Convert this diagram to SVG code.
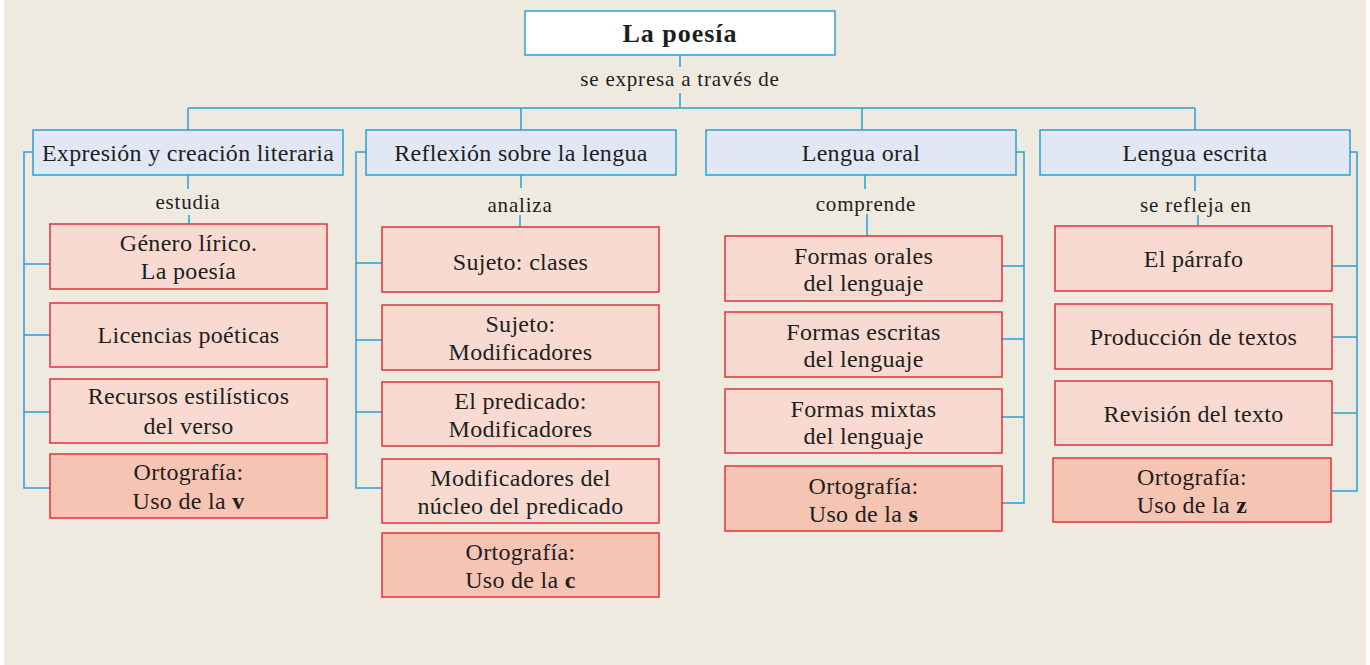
<svg xmlns="http://www.w3.org/2000/svg" width="1370" height="665" viewBox="0 0 1370 665">
<style>
.bg{fill:#EEEAE0}
.root{fill:#FFFFFF;stroke:#2A9FD8;stroke-width:1.5}
.cat{fill:#E1E7F5;stroke:#2A9FD8;stroke-width:1.5}
.item{fill:#F8DAD0;stroke:#E2323C;stroke-width:1.5}
.orto{fill:#F5C4B3;stroke:#E2323C;stroke-width:1.5}
.conn{fill:none;stroke:#2A9FD8;stroke-width:1.5}
.t{font-size:24px;letter-spacing:0.3px}
.lbl{font-size:21px;letter-spacing:0.8px}
.b{font-weight:bold}
.rt{font-size:26px;font-weight:bold;letter-spacing:1px}
</style>
<rect x="0" y="0" width="1370" height="665" fill="#FFFFFF"/>
<rect class="bg" x="4" y="0" width="1362" height="665"/>
<g id="connectors">
<path class="conn" d="M680 55V67M680 93V108M188 108H1195M188 108V130M521 108V130M862 108V130M1195 108V130"/>
<path class="conn" d="M188 175V189M189 215V224"/>
<path class="conn" d="M521 175V188M520 215V227"/>
<path class="conn" d="M865 175V189M867 214V236"/>
<path class="conn" d="M1195 175V191M1198 215V226"/>
<path class="conn" d="M33 152H24V488H50M24 264H50M24 335H50M24 412H50"/>
<path class="conn" d="M366 152H356V488H382M356 263H382M356 340H382M356 412H382"/>
<path class="conn" d="M1016 152H1024V503H1002M1024 266H1002M1024 339H1002M1024 417H1002"/>
<path class="conn" d="M1350 152H1357V491H1331M1357 266H1332M1357 337H1332M1357 413H1332"/>
</g>
<g font-family="'Liberation Serif', 'Times New Roman', 'DejaVu Serif', serif" fill="#1E1E1E" text-anchor="middle">
<g id="root"><rect class="root" x="525" y="11" width="310" height="44"/><text class="rt" x="680" y="42">La poesía</text></g>
<g id="lbl-root"><text class="lbl" x="680" y="86">se expresa a través de</text></g>
<g id="cat1"><rect class="cat" x="33" y="130" width="310" height="45"/><text class="t" x="188" y="161">Expresión y creación literaria</text></g>
<g id="cat2"><rect class="cat" x="366" y="130" width="310" height="45"/><text class="t" x="521" y="161">Reflexión sobre la lengua</text></g>
<g id="cat3"><rect class="cat" x="706" y="130" width="310" height="45"/><text class="t" x="861" y="161">Lengua oral</text></g>
<g id="cat4"><rect class="cat" x="1040" y="130" width="310" height="45"/><text class="t" x="1195" y="161">Lengua escrita</text></g>
<g id="lbl1"><text class="lbl" x="188" y="209">estudia</text></g>
<g id="lbl2"><text class="lbl" x="520" y="212">analiza</text></g>
<g id="lbl3"><text class="lbl" x="866" y="211">comprende</text></g>
<g id="lbl4"><text class="lbl" x="1196" y="212">se refleja en</text></g>
<g id="c1-1"><rect class="item" x="50" y="224" width="277" height="65"/><text class="t" x="188.5" y="251">Género lírico.</text><text class="t" x="188.5" y="279">La poesía</text></g>
<g id="c1-2"><rect class="item" x="50" y="303" width="277" height="64"/><text class="t" x="188.5" y="343">Licencias poéticas</text></g>
<g id="c1-3"><rect class="item" x="50" y="379" width="277" height="64"/><text class="t" x="188.5" y="404">Recursos estilísticos</text><text class="t" x="188.5" y="434">del verso</text></g>
<g id="c1-4"><rect class="orto" x="50" y="454" width="277" height="64"/><text class="t" x="188.5" y="480">Ortografía:</text><text class="t" x="188.5" y="509">Uso de la <tspan class="b">v</tspan></text></g>
<g id="c2-1"><rect class="item" x="382" y="227" width="277" height="65"/><text class="t" x="520.5" y="270">Sujeto: clases</text></g>
<g id="c2-2"><rect class="item" x="382" y="305" width="277" height="65"/><text class="t" x="520.5" y="332">Sujeto:</text><text class="t" x="520.5" y="360">Modificadores</text></g>
<g id="c2-3"><rect class="item" x="382" y="382" width="277" height="64"/><text class="t" x="520.5" y="409">El predicado:</text><text class="t" x="520.5" y="437">Modificadores</text></g>
<g id="c2-4"><rect class="item" x="382" y="459" width="277" height="64"/><text class="t" x="520.5" y="486">Modificadores del</text><text class="t" x="520.5" y="514">núcleo del predicado</text></g>
<g id="c2-5"><rect class="orto" x="382" y="533" width="277" height="64"/><text class="t" x="520.5" y="560">Ortografía:</text><text class="t" x="520.5" y="588">Uso de la <tspan class="b">c</tspan></text></g>
<g id="c3-1"><rect class="item" x="725" y="236" width="277" height="65"/><text class="t" x="863.5" y="264">Formas orales</text><text class="t" x="863.5" y="291">del lenguaje</text></g>
<g id="c3-2"><rect class="item" x="725" y="312" width="277" height="65"/><text class="t" x="863.5" y="340">Formas escritas</text><text class="t" x="863.5" y="367">del lenguaje</text></g>
<g id="c3-3"><rect class="item" x="725" y="389" width="277" height="64"/><text class="t" x="863.5" y="417">Formas mixtas</text><text class="t" x="863.5" y="444">del lenguaje</text></g>
<g id="c3-4"><rect class="orto" x="725" y="466" width="277" height="65"/><text class="t" x="863.5" y="494">Ortografía:</text><text class="t" x="863.5" y="522">Uso de la <tspan class="b">s</tspan></text></g>
<g id="c4-1"><rect class="item" x="1055" y="226" width="277" height="65"/><text class="t" x="1193.5" y="267">El párrafo</text></g>
<g id="c4-2"><rect class="item" x="1055" y="304" width="277" height="65"/><text class="t" x="1193.5" y="345">Producción de textos</text></g>
<g id="c4-3"><rect class="item" x="1055" y="381" width="277" height="64"/><text class="t" x="1193.5" y="422">Revisión del texto</text></g>
<g id="c4-4"><rect class="orto" x="1053" y="458" width="278" height="64"/><text class="t" x="1192" y="485">Ortografía:</text><text class="t" x="1192" y="513">Uso de la <tspan class="b">z</tspan></text></g>
</g>
</svg>
